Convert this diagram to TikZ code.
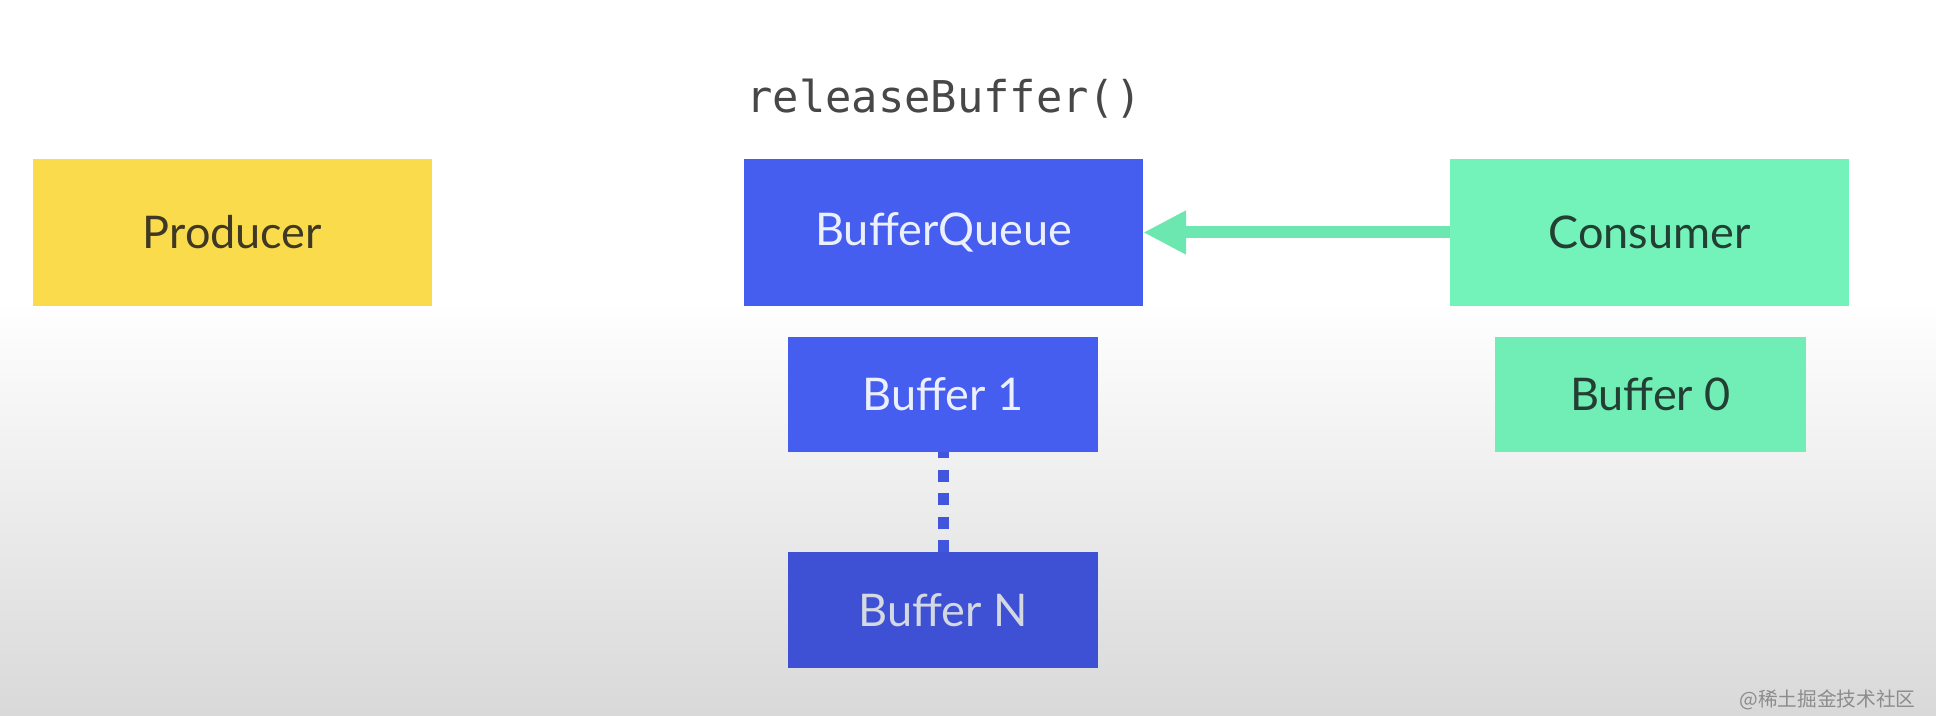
\documentclass[tikz,border=0pt]{standalone}
\usepackage{fontspec}
\setmainfont{Lato}
\setmonofont{DejaVu Sans Mono}
\newfontfamily\cjkfont{Noto Sans CJK SC}
\usetikzlibrary{arrows.meta}
\definecolor{prodyellow}{RGB}{249,219,75}
\definecolor{queueblue}{RGB}{70,94,240}
\definecolor{deepblue}{RGB}{62,80,212}
\definecolor{consgreen}{RGB}{115,243,185}
\definecolor{inkgreen}{RGB}{35,62,50}
\definecolor{inkbrown}{RGB}{62,56,36}
\definecolor{inkwhite}{RGB}{236,240,252}
\begin{document}
\begin{tikzpicture}[x=0.01cm,y=-0.01cm,
    bigbox/.style={minimum width=3.99cm,minimum height=1.47cm,inner sep=0pt,outer sep=0pt,
        font=\fontsize{12.8}{15}\selectfont},
    bufbox/.style={minimum width=3.10cm,minimum height=1.15cm,inner sep=0pt,outer sep=0pt,
        font=\fontsize{12.8}{15}\selectfont}]
    % backdrop
    \fill[white] (0,0) rectangle (1936,300);
    \shade[top color=white,bottom color=black!15] (0,300) rectangle (1936,716);
    \useasboundingbox (0,0) rectangle (1936,716);
    % top row
    \node[bigbox,fill=prodyellow,text=inkbrown] (prod) at (232.5,232.5) {Producer};
    \node[bigbox,fill=queueblue,text=inkwhite] (bq) at (943.5,232.5) {BufferQueue};
    \node[bigbox,fill=consgreen,text=inkgreen] (cons) at (1649.5,232.5) {Consumer};
    \node[text=black!72,font=\ttfamily\fontsize{12.45}{14}\selectfont] (call) at (944,99) {releaseBuffer()};
    % buffers
    \node[bufbox,fill=queueblue,text=inkwhite] (buf1) at (943,394.5) {Buffer 1};
    \node[bufbox,fill=deepblue,text=inkwhite!90!black] (bufN) at (943,610) {Buffer N};
    \node[bufbox,fill=consgreen!98!black,text=inkgreen] (buf0) at (1650.5,394.5) {Buffer 0};
    % connectors
    \draw[consgreen!95!black,line width=0.12cm,-{Triangle[length=0.43cm,width=0.41cm]}] (cons.west) -- (bq.east);
    \draw[queueblue!92!black,line width=0.11cm,dash pattern=on 0.12cm off 0.115cm,dash phase=0.06cm] (buf1.south) -- (bufN.north);
    % watermark
    \node[anchor=east,text=black!45,font=\cjkfont\fontsize{5.6}{6}\selectfont] (mark) at (1928,700) {@稀土掘金技术社区};
\end{tikzpicture}
\end{document}
